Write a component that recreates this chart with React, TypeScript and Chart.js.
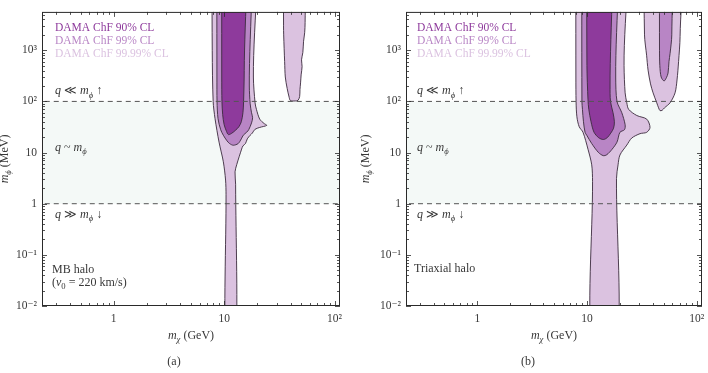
import React, { useEffect, useRef } from 'react';
import { Chart, registerables } from 'chart.js';

Chart.register(...registerables);

type Pt = [number, number];

// ---- axis ranges (GeV on x, MeV on y) ----
const X_MIN = 0.224;
const X_MAX = 112;
const Y_MIN = 0.01;
const Y_MAX = 5623;

const xTickValues = [1, 10, 100];
const xTickLabels = ['1', '10', '10²'];
const yTickValues = [0.01, 0.1, 1, 10, 100, 1000];
const yTickLabels = ['10⁻²', '10⁻¹', '1', '10', '10²', '10³'];

// boundaries of the q ~ m_phi regime (MeV)
const regimeBounds = [1, 100];

const legendLabels = ['DAMA ChF 90% CL', 'DAMA ChF 99% CL', 'DAMA ChF 99.99% CL'];

// contours run past the plotted range; these values close them off-axis
const TOP = 1e6;
const BOTTOM = 1e-3;

// ---- (a) Maxwell-Boltzmann halo ----
const mbCL90: Pt[] = [
  [9.51, TOP], [9.51, 300], [9.55, 100], [9.7, 55], [10.0, 35], [10.5, 26], [10.9, 22.5],
  [11.6, 23.5], [12.6, 27], [13.6, 32], [14.3, 40], [14.8, 60], [15.0, 100], [15.2, 400], [15.3, TOP],
];
const mbCL99: Pt[] = [
  [8.57, TOP], [8.6, 300], [8.62, 100], [8.8, 46], [9.3, 28], [9.83, 21.8], [10.6, 17], [11.2, 15],
  [12.1, 13.9], [13.4, 15], [14.3, 18.5], [14.9, 21.8], [16.0, 25], [16.7, 28], [17.7, 38], [18.1, 48],
  [17.7, 60], [17.2, 90], [16.9, 200], [16.7, TOP],
];
const mbCL9999: Pt[] = [
  [7.72, TOP], [7.8, 1000], [7.95, 100], [8.27, 46], [8.99, 16], [9.83, 6.6], [10.3, 2.9], [10.4, 1.5],
  [10.4, BOTTOM], [12.7, BOTTOM], [12.7, 2.4], [12.55, 4.2], [13.0, 5.8], [14.4, 11.7], [14.8, 13.5],
  [15.6, 15], [16.2, 18.5], [17.2, 21.8], [18.0, 24], [19.0, 28.4], [21, 31], [24.3, 34], [23, 37],
  [21, 45], [19.6, 70], [19.05, 94], [18.4, 300], [18.4, TOP],
];
const mbCL9999Heavy: Pt[] = [
  [34.4, TOP], [34.5, 3000], [34.6, 2000], [35.3, 600], [35.8, 300], [37.2, 180], [38.8, 120], [39.8, 104],
  [44, 102], [46.7, 105], [48.3, 125], [48.6, 170], [49.2, 230], [49.8, 330], [50.8, 480], [50.2, 650],
  [51.6, 900], [52.4, 1500], [53.6, 2200], [54.1, 3500], [54.1, TOP],
];

// ---- (b) triaxial halo ----
const triCL90: Pt[] = [
  [9.96, TOP], [10.0, 500], [10.23, 107], [10.4, 70], [10.9, 40], [11.6, 25], [12.8, 19.5], [14.1, 18.0],
  [15.3, 19.5], [16.5, 24], [17.5, 30], [17.8, 40], [17.3, 60], [16.4, 100], [16.25, 200], [16.25, TOP],
];
const triCL99: Pt[] = [
  [8.97, TOP], [9.0, 100], [9.1, 70], [9.3, 40], [9.61, 24.9], [9.96, 21.8], [11.06, 15], [12.7, 10.1],
  [14.1, 8.7], [15.2, 9.1], [16.9, 11.5], [18.8, 16], [20.0, 24.9], [22.0, 28], [22.3, 35], [20.8, 60],
  [18.8, 100], [18.3, 300], [18.05, TOP],
];
const triCL9999: Pt[] = [
  [7.91, TOP], [7.93, 300], [7.96, 100], [8.1, 50], [8.5, 32], [9.21, 24.9], [10.23, 11.6], [11.06, 5.75],
  [11.25, 2.7], [11.25, BOTTOM], [18.6, BOTTOM], [18.6, 3.1], [19.22, 5.75], [20, 8.96], [23.1, 14],
  [25.6, 19.2], [30.5, 23.4], [35.1, 24.9], [37.6, 31], [35.1, 45], [28.5, 53], [24, 70], [23.1, 94],
  [22.3, 147], [21.8, 500], [21.5, TOP],
];
const triCL99Heavy: Pt[] = [
  [45.8, TOP], [45.9, 1000], [46.2, 500], [47.5, 300], [50.5, 251], [53, 290], [54.9, 358], [56, 600],
  [57.3, 870], [59.4, 2000], [59.4, TOP],
];
const triCL9999Heavy: Pt[] = [
  [32.7, TOP], [33.5, 2000], [35, 800], [36.1, 409], [38, 220], [40.1, 147], [43.3, 94], [45, 75],
  [46.4, 66], [48.5, 67], [51, 75], [57.3, 94], [63.6, 147], [66.3, 262], [68.5, 600], [70.7, 1850],
  [71.7, TOP],
];

// ---- styling ----
const SERIF = '"Liberation Serif", "DejaVu Serif", serif';
const CL90_COLOR = '#8e3a9c';
const CL99_COLOR = '#b885c5';
const CL9999_COLOR = '#dbc2e0';
const OUTLINE = '#3b2a3d';
const BAND_COLOR = '#f4f9f7';
const TEXT = '#383838';
const AXIS = '#2a2a2a';

type Part = { t: string; it?: boolean; sub?: boolean };

function partFont(p: Part, size: number) {
  const s = p.sub ? size * 0.72 : size;
  return `${p.it ? 'italic ' : ''}${s}px ${SERIF}`;
}

function drawRich(ctx: CanvasRenderingContext2D, x: number, y: number, parts: Part[], size: number, color: string, align: 'left' | 'center' = 'left') {
  ctx.save();
  ctx.fillStyle = color;
  ctx.textBaseline = 'alphabetic';
  ctx.textAlign = 'left';
  let total = 0;
  for (const p of parts) {
    ctx.font = partFont(p, size);
    total += ctx.measureText(p.t).width;
  }
  let cx = align === 'center' ? x - total / 2 : x;
  for (const p of parts) {
    ctx.font = partFont(p, size);
    ctx.fillText(p.t, cx, y + (p.sub ? size * 0.28 : 0));
    cx += ctx.measureText(p.t).width;
  }
  ctx.restore();
}

const qBelow: Part[] = [{ t: 'q', it: true }, { t: ' ≪ ' }, { t: 'm', it: true }, { t: 'ϕ', it: true, sub: true }, { t: ' ↑' }];
const qEqual: Part[] = [{ t: 'q', it: true }, { t: ' ~ ' }, { t: 'm', it: true }, { t: 'ϕ', it: true, sub: true }];
const qAbove: Part[] = [{ t: 'q', it: true }, { t: ' ≫ ' }, { t: 'm', it: true }, { t: 'ϕ', it: true, sub: true }, { t: ' ↓' }];
const xTitle: Part[] = [{ t: 'm', it: true }, { t: 'χ', it: true, sub: true }, { t: ' (GeV)' }];
const yTitle: Part[] = [{ t: 'm', it: true }, { t: 'ϕ', it: true, sub: true }, { t: ' (MeV)' }];

interface Contour { points: Pt[]; color: string }
interface PanelSpec {
  offset: number;
  width: number;
  axisWidth: number;
  padRight: number;
  yTitleGap: number;
  contours: Contour[];
  haloText: Part[][];
  haloFromBottom: number;
  textInset: number;
  tag: string;
}

const panels: PanelSpec[] = [
  {
    offset: 0, width: 354, axisWidth: 42, padRight: 14, yTitleGap: 38, textInset: 13,
    contours: [
      { points: mbCL90, color: CL90_COLOR },
      { points: mbCL99, color: CL99_COLOR },
      { points: mbCL9999, color: CL9999_COLOR },
      { points: mbCL9999Heavy, color: CL9999_COLOR },
    ],
    haloText: [[{ t: 'MB halo' }], [{ t: '(' }, { t: 'v', it: true }, { t: '0', sub: true }, { t: ' = 220 km/s)' }]],
    haloFromBottom: 33,
    tag: '(a)',
  },
  {
    offset: 354, width: 354, axisWidth: 52, padRight: 6, yTitleGap: 41, textInset: 11,
    contours: [
      { points: triCL90, color: CL90_COLOR },
      { points: triCL99, color: CL99_COLOR },
      { points: triCL9999, color: CL9999_COLOR },
      { points: triCL99Heavy, color: CL99_COLOR },
      { points: triCL9999Heavy, color: CL9999_COLOR },
    ],
    haloText: [[{ t: 'Triaxial halo' }]],
    haloFromBottom: 34,
    tag: '(b)',
  },
];

function closed(points: Pt[]) {
  const pts = points.map(([x, y]) => ({ x, y }));
  pts.push({ x: points[0][0], y: points[0][1] });
  return pts;
}

function contourDataset(c: Contour) {
  return {
    data: closed(c.points),
    showLine: true,
    fill: 'shape',
    backgroundColor: c.color,
    borderColor: OUTLINE,
    borderWidth: 0.9,
    pointRadius: 0,
    pointHoverRadius: 0,
    tension: 0.3,
  };
}

function bandDataset() {
  const [lo, hi] = regimeBounds;
  return {
    data: closed([[X_MIN / 2, lo], [X_MIN / 2, hi], [X_MAX * 2, hi], [X_MAX * 2, lo]]),
    showLine: true,
    fill: 'shape',
    backgroundColor: BAND_COLOR,
    borderWidth: 0,
    borderColor: 'rgba(0,0,0,0)',
    pointRadius: 0,
    tension: 0,
  };
}

function dashDataset(value: number) {
  return {
    data: [{ x: X_MIN / 2, y: value }, { x: X_MAX * 2, y: value }],
    showLine: true,
    fill: false,
    borderColor: '#555555',
    borderWidth: 1,
    borderDash: [5, 4],
    pointRadius: 0,
    tension: 0,
  };
}

function logTicks(min: number, max: number) {
  const out: { v: number; major: boolean }[] = [];
  for (let e = Math.floor(Math.log10(min)); e <= Math.ceil(Math.log10(max)); e++) {
    for (let k = 1; k <= 9; k++) {
      const v = k * Math.pow(10, e);
      if (v >= min * 0.999 && v <= max * 1.001) out.push({ v, major: k === 1 });
    }
  }
  return out;
}

function labelFor(values: number[], labels: string[], v: number) {
  for (let i = 0; i < values.length; i++) {
    if (Math.abs(Math.log10(v) - Math.log10(values[i])) < 1e-6) return labels[i];
  }
  return '';
}

function decorations(spec: PanelSpec) {
  return {
    id: 'panelDecorations',
    afterDatasetsDraw(chart: any) {
      const { ctx, chartArea: a, scales } = chart;
      const x = scales.x;
      const y = scales.y;
      ctx.save();
      // inward ticks on all four sides
      ctx.strokeStyle = AXIS;
      ctx.lineWidth = 0.8;
      ctx.beginPath();
      for (const t of logTicks(x.min, x.max)) {
        const px = Math.round(x.getPixelForValue(t.v)) + 0.5;
        const len = t.major ? 5 : 3;
        ctx.moveTo(px, a.bottom);
        ctx.lineTo(px, a.bottom - len);
        ctx.moveTo(px, a.top);
        ctx.lineTo(px, a.top + len);
      }
      for (const t of logTicks(y.min, y.max)) {
        const py = Math.round(y.getPixelForValue(t.v)) + 0.5;
        const len = t.major ? 5 : 3;
        ctx.moveTo(a.left, py);
        ctx.lineTo(a.left + len, py);
        ctx.moveTo(a.right, py);
        ctx.lineTo(a.right - len, py);
      }
      ctx.stroke();
      ctx.lineWidth = 1;
      ctx.strokeRect(a.left + 0.5, a.top + 0.5, a.right - a.left - 1, a.bottom - a.top - 1);

      const tx = a.left + spec.textInset;
      // legend
      const legendColors = [CL90_COLOR, CL99_COLOR, CL9999_COLOR];
      legendLabels.forEach((label, i) => {
        drawRich(ctx, tx, a.top + 19 + i * 13, [{ t: label }], 11.5, legendColors[i]);
      });
      // regime labels
      drawRich(ctx, tx, y.getPixelForValue(regimeBounds[1]) - 7, qBelow, 12, TEXT);
      drawRich(ctx, tx, y.getPixelForValue(10) - 2, qEqual, 12, TEXT);
      drawRich(ctx, tx, y.getPixelForValue(regimeBounds[0]) + 14, qAbove, 12, TEXT);
      // halo model
      spec.haloText.forEach((line, i) => {
        drawRich(ctx, a.left + spec.textInset - 3, a.bottom - spec.haloFromBottom + i * 13, line, 12, TEXT);
      });
      // axis titles
      drawRich(ctx, (a.left + a.right) / 2, 339, xTitle, 12, TEXT, 'center');
      ctx.save();
      ctx.translate(a.left - spec.yTitleGap + 4, (a.top + a.bottom) / 2);
      ctx.rotate(-Math.PI / 2);
      drawRich(ctx, 0, 0, yTitle, 12, TEXT, 'center');
      ctx.restore();
      // panel tag
      drawRich(ctx, 174, 365, [{ t: spec.tag }], 12, TEXT, 'center');
      ctx.restore();
    },
  };
}

function buildConfig(spec: PanelSpec): any {
  const datasets = [
    dashDataset(regimeBounds[1]),
    dashDataset(regimeBounds[0]),
    ...spec.contours.map(contourDataset),
    bandDataset(),
  ];
  const tickFont = { family: SERIF, size: 11.5 };
  return {
    type: 'scatter',
    data: { datasets },
    options: {
      responsive: false,
      animation: false,
      events: [],
      layout: { padding: { left: 0, right: spec.padRight, top: 8, bottom: 0 } },
      elements: { line: { capBezierPoints: false } },
      plugins: { legend: { display: false }, tooltip: { enabled: false } },
      scales: {
        x: {
          type: 'logarithmic',
          min: X_MIN,
          max: X_MAX,
          grid: { display: false, drawTicks: false },
          border: { display: false },
          ticks: {
            autoSkip: false,
            maxRotation: 0,
            padding: 6,
            color: TEXT,
            font: tickFont,
            callback: (v: number) => labelFor(xTickValues, xTickLabels, v),
          },
          afterFit: (s: any) => { s.height = 67; },
        },
        y: {
          type: 'logarithmic',
          min: Y_MIN,
          max: Y_MAX,
          grid: { display: false, drawTicks: false },
          border: { display: false },
          ticks: {
            autoSkip: false,
            padding: 5,
            color: TEXT,
            font: tickFont,
            callback: (v: number) => labelFor(yTickValues, yTickLabels, v),
          },
          afterFit: (s: any) => { s.width = spec.axisWidth; },
        },
      },
    },
    plugins: [decorations(spec)],
  };
}

function Panel({ spec }: { spec: PanelSpec }) {
  const ref = useRef<HTMLCanvasElement>(null);
  useEffect(() => {
    if (!ref.current) return;
    const chart = new Chart(ref.current, buildConfig(spec));
    return () => chart.destroy();
  }, [spec]);
  return (
    <canvas
      ref={ref}
      width={spec.width}
      height={373}
      style={{ position: 'absolute', left: spec.offset, top: 0, width: spec.width, height: 373, display: 'block' }}
    />
  );
}

export default function App() {
  return (
    <div style={{ position: 'absolute', left: 0, top: 0, width: 708, height: 373, background: '#ffffff', overflow: 'hidden' }}>
      {panels.map((p) => (
        <Panel key={p.tag} spec={p} />
      ))}
    </div>
  );
}
